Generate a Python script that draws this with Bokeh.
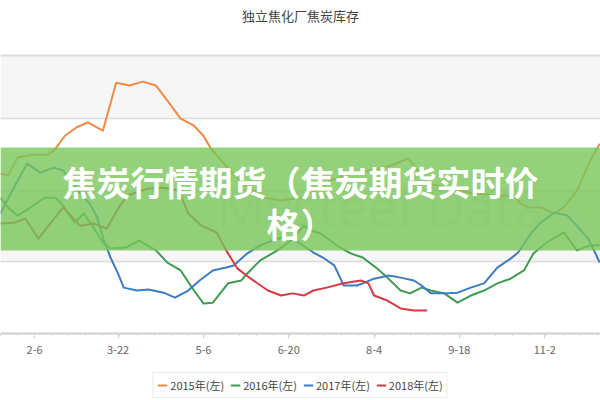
from bokeh.plotting import figure
from bokeh.layouts import column
from bokeh.models import (BoxAnnotation, Span, Label, Legend, LegendItem,
                          FixedTicker, Range1d, Grid)
from bokeh.embed import file_html
from bokeh.resources import INLINE

# ---- data (day of year, inventory) ----
day_2015 = [19, 23, 28, 36, 44, 48, 53, 59, 65, 73, 80, 87, 94, 101, 107, 114, 121, 126,
            130, 134, 140, 148, 158, 167, 177, 185, 193, 204, 214, 225, 234, 239, 244, 255,
            267, 280, 290, 293, 297, 304, 311, 316, 323, 330, 335]
inv_2015 = [84.6, 84.1, 89.1, 89.9, 89.9, 91.6, 95.2, 97.5, 98.9, 96.6, 110.0, 109.2, 110.3,
            109.2, 105.0, 100.0, 98.0, 95.2, 91.6, 89.1, 85.5, 81.3, 77.9, 77.1, 77.9, 79.9,
            82.7, 84.6, 85.5, 86.9, 88.8, 85.5, 81.9, 80.7, 79.3, 78.5, 78.5, 76.3, 75.2,
            75.2, 73.5, 75.2, 79.9, 88.3, 93.0]

day_2016 = [19, 23, 28, 35, 42, 48, 52, 58, 63, 68, 73, 77, 85, 92, 101, 107, 114, 121, 126,
            131, 139, 146, 149, 156, 165, 172, 179, 183, 188, 193, 198, 204, 210, 217, 223,
            230, 235, 241, 246, 253, 260, 267, 274, 281, 288, 295, 300, 307, 316, 323, 330, 335]
inv_2016 = [77.9, 75.2, 72.9, 75.2, 77.9, 77.9, 75.7, 71.0, 73.5, 69.6, 65.4, 63.7, 64.0,
            65.9, 63.2, 59.8, 57.6, 52.0, 48.4, 48.6, 54.0, 54.8, 56.7, 60.4, 63.2, 65.9,
            70.1, 68.7, 67.9, 65.9, 64.0, 62.3, 61.2, 58.4, 55.6, 52.0, 51.2, 52.8, 52.0,
            51.2, 48.6, 50.6, 52.0, 54.0, 55.3, 57.6, 62.3, 65.4, 68.2, 63.2, 64.6, 64.6]

day_2017 = [19, 26, 33, 40, 47, 52, 61, 66, 70, 73, 77, 81, 84, 91, 97, 105, 111, 118, 124,
            131, 138, 142, 149, 156, 167, 175, 184, 189, 195, 200, 207, 210, 216, 224, 230,
            237, 241, 246, 253, 260, 267, 274, 281, 288, 292, 299, 304, 311, 318, 329, 335]
inv_2017 = [73.5, 80.7, 87.4, 84.9, 86.3, 85.5, 79.1, 76.3, 72.4, 66.8, 61.2, 56.7, 52.8,
            52.0, 52.3, 51.4, 50.0, 52.0, 54.8, 57.6, 58.4, 59.0, 62.3, 64.6, 66.8, 65.9,
            62.6, 61.2, 59.0, 53.4, 53.4, 54.0, 55.3, 56.2, 55.6, 54.8, 53.4, 51.2, 51.2,
            51.4, 52.8, 54.0, 58.4, 60.9, 62.6, 68.2, 71.0, 73.8, 72.9, 66.5, 59.8]

day_2018 = [19, 27, 32, 39, 52, 61, 68, 75, 82, 86, 97, 105, 113, 118, 125, 133, 138, 144,
            151, 160, 167, 173, 179, 184, 191, 200, 209, 213, 216, 223, 230, 237, 244]
inv_2018 = [70.7, 71.0, 72.1, 66.5, 75.2, 70.1, 70.7, 69.3, 75.7, 78.5, 80.5, 80.7, 79.9,
            73.5, 70.1, 68.2, 63.2, 58.1, 55.3, 52.0, 50.6, 51.2, 50.6, 52.0, 52.8, 54.0,
            54.8, 54.0, 50.6, 49.2, 47.0, 46.4, 46.4]

tick_days = [37, 81, 126, 171, 216, 261, 306]
tick_labels = ["2-6", "3-22", "5-6", "6-20", "8-4", "9-18", "11-2"]
series_names = ["2015年(左)", "2016年(左)", "2017年(左)", "2018年(左)"]
series_colors = ["#ef8a47", "#3f9c50", "#3c7cbf", "#d43a44"]
chart_title = "独立焦化厂焦炭库存"

X0, X1 = 19.0, 335.4
Y0, YPLOT = 40.0, 117.6          # plotting area limits
YTOP = YPLOT + 55 / 3.5835       # extra headroom above plotting area for the title
FONT = "Noto Sans CJK SC"

p = figure(width=600, height=360, x_range=Range1d(X0, X1), y_range=Range1d(Y0, YTOP),
           output_backend="svg", toolbar_location=None, tools="",
           y_axis_location=None, min_border_left=0, min_border_right=0,
           min_border_top=0, min_border_bottom=27)
p.title = None
p.outline_line_color = None
p.background_fill_color = "white"
p.border_fill_color = "white"

# chart title (inside the canvas headroom)
p.add_layout(Label(x=(X0 + X1) / 2, y=YPLOT + 11.2, text=chart_title, text_font=FONT,
                   text_font_size="13px", text_color="#444444",
                   text_align="center", text_baseline="middle"))

# background bands
for b, t in [(100, YPLOT), (60, 80)]:
    p.add_layout(BoxAnnotation(bottom=b, top=t, fill_color="#f6f6f6", fill_alpha=1,
                               line_color=None, level="image"))

p.xgrid.visible = False
p.ygrid.visible = False
p.add_layout(Grid(dimension=1, ticker=FixedTicker(ticks=[60, 80, 100]),
                  grid_line_color="#dcdcdc", grid_line_width=1.5))
p.add_layout(Span(location=YPLOT, dimension="width", line_color="#dcdcdc", line_width=2))

# watermark
p.add_layout(Label(x=219.4, y=75.7, text="Mysteel Data", text_font="Open Sans",
                   text_font_size="54px", text_color="#888888", text_alpha=0.16,
                   text_align="center", text_baseline="middle", level="underlay"))

ax = p.xaxis[0]
ax.ticker = FixedTicker(ticks=tick_days,
                        minor_ticks=[tick_days[0] + 9 * k for k in range(-2, 34)])
ax.major_label_overrides = dict(zip(tick_days, tick_labels))
ax.major_label_text_font = FONT
ax.major_label_text_font_size = "11px"
ax.major_label_text_color = "#666666"
ax.axis_line_color = "#d0d0d0"
ax.axis_line_width = 2
ax.major_tick_line_color = "#d0d0d0"
ax.major_tick_out = 5
ax.major_tick_in = 0
ax.minor_tick_line_color = "#dadada"
ax.minor_tick_out = 3
ax.minor_tick_in = 0
ax.major_label_standoff = 7

all_days = [day_2015, day_2016, day_2017, day_2018]
all_inv = [inv_2015, inv_2016, inv_2017, inv_2018]
for d, v, c in zip(all_days, all_inv, series_colors):
    p.line(d, v, line_color=c, line_width=2, line_join="round")

# overlay banner
p.add_layout(BoxAnnotation(bottom=63.2, top=91.9, fill_color="#78c55a", fill_alpha=0.8,
                           line_color=None, level="overlay"))
xc = (X0 + X1) / 2
p.add_layout(Label(x=xc, y=82.4, text="焦炭行情期货（焦炭期货实时价", text_font=FONT,
                   text_font_size="34px", text_font_style="bold", text_color="white",
                   text_align="center", text_baseline="middle", level="overlay"))
p.add_layout(Label(x=xc, y=70.7, text="格）", text_font=FONT,
                   text_font_size="34px", text_font_style="bold", text_color="white",
                   text_align="center", text_baseline="middle", level="overlay"))

# legend strip: same series drawn into a view that shows only their legend
q = figure(width=600, height=40, x_range=Range1d(X0, X1), y_range=Range1d(0, 1),
           output_backend="svg", toolbar_location=None, tools="",
           x_axis_location=None, y_axis_location=None,
           min_border_left=0, min_border_right=0, min_border_top=0, min_border_bottom=0)
q.title = None
q.outline_line_color = None
q.xgrid.visible = False
q.ygrid.visible = False
q.background_fill_color = "white"
q.border_fill_color = "white"
rs = [q.line(d, v, line_color=c, line_width=2) for d, v, c in
      zip(all_days, all_inv, series_colors)]
legend = Legend(items=[LegendItem(label=n, renderers=[r]) for n, r in zip(series_names, rs)],
                orientation="horizontal", location="bottom_center",
                label_text_font=FONT, label_text_font_size="11px", label_text_color="#444444",
                glyph_width=10, glyph_height=10, label_standoff=3, spacing=6,
                padding=4, margin=2, border_line_color="#d8d8d8",
                background_fill_color="white", label_height=12)
q.add_layout(legend)

open("out.html", "w").write(file_html(column(p, q, spacing=0), INLINE))
